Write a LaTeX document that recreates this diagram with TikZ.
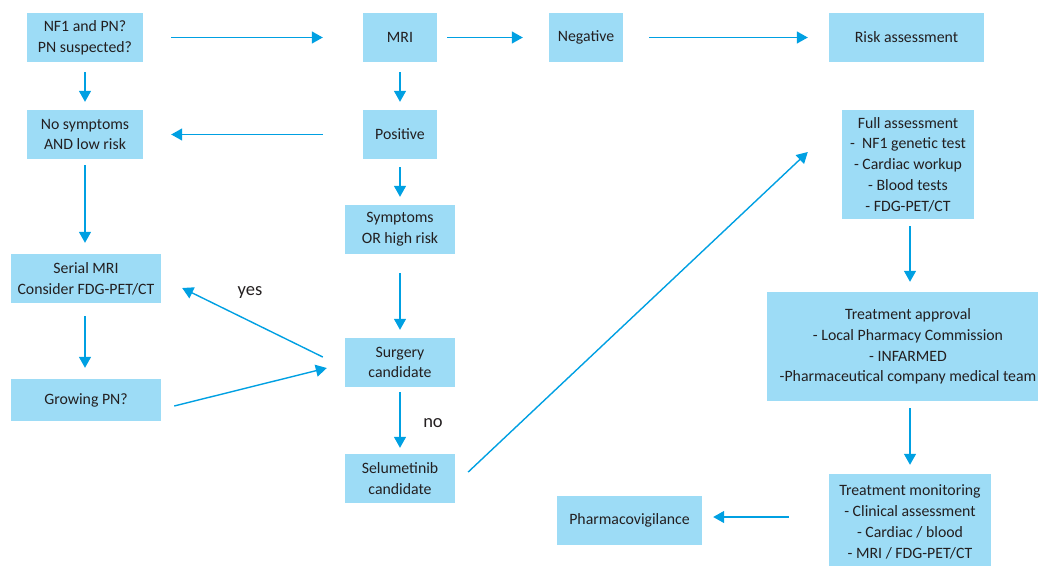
\documentclass[tikz,border=0pt]{standalone}
\usepackage{fontspec}
\setmainfont{Carlito}
\usetikzlibrary{arrows.meta,calc}
\definecolor{boxfill}{RGB}{157,220,246}
\definecolor{arrowblue}{RGB}{0,160,226}
\definecolor{txt}{RGB}{35,31,32}
\begin{document}
\begin{tikzpicture}[x=1pt,y=-1pt,
  box/.style={rectangle,fill=boxfill,draw=none,inner sep=0pt,align=center,text=txt,
    font=\fontsize{15.8}{20.8}\selectfont},
  conn/.style={draw=arrowblue,line width=1.4pt,-{Triangle[length=11pt,width=12pt]}},
  lbl/.style={text=txt,font=\fontsize{18.5}{20}\selectfont,inner sep=0pt}]
\useasboundingbox (0,0) rectangle (1038,565);
\clip (0,0) rectangle (1038,565);
\node[box,minimum width=116pt,minimum height=49pt] (nf1) at (85,37.5) {NF1 and PN?\\PN suspected?};
\node[box,minimum width=74pt,minimum height=49pt] (mri) at (400,37.5) {MRI};
\node[box,minimum width=74pt,minimum height=49pt] (neg) at (586,37.5) {Negative};
\node[box,minimum width=155pt,minimum height=49pt] (risk) at (906.5,37.5) {Risk assessment};
\node[box,minimum width=116pt,minimum height=49pt] (nosym) at (85,134.5) {No symptoms\\AND low risk};
\node[box,minimum width=74pt,minimum height=49pt] (pos) at (400,134.5) {Positive};
\node[box,minimum width=110pt,minimum height=49pt] (sym) at (400,229.5) {Symptoms\\OR high risk};
\node[box,minimum width=132pt,minimum height=109pt] (full) at (908,164.5) {Full assessment\\-\ \ NF1 genetic test\\- Cardiac workup\\- Blood tests\\- FDG-PET/CT};
\node[box,minimum width=150pt,minimum height=49pt] (serial) at (86,278.5) {Serial MRI\\Consider FDG-PET/CT};
\node[box,minimum width=150pt,minimum height=42pt] (growing) at (86,400) {Growing PN?};
\node[box,minimum width=110pt,minimum height=49pt] (surg) at (400,362.5) {Surgery\\candidate};
\node[box,minimum width=110pt,minimum height=49pt] (sel) at (400,478.5) {Selumetinib\\candidate};
\node[box,minimum width=282pt,minimum height=109pt] (ta) at (908,346.5) {Treatment approval\\- Local Pharmacy Commission\\- INFARMED\\-Pharmaceutical company medical team};
\node[box,minimum width=162pt,minimum height=96pt] (tm) at (910,522) {Treatment monitoring\\- Clinical assessment\\- Cardiac / blood\\- MRI / FDG-PET/CT};
\node[box,minimum width=145pt,minimum height=49pt] (pharma) at (629.5,520.5) {Pharmacovigilance};
\node[lbl] (yes) at (250,293) {yes};
\node[lbl] (no) at (433,423) {no};
% connectors
\draw[conn,shorten <=28pt,shorten >=40pt] (nf1.east) -- (mri.west);
\draw[conn,shorten <=10pt,shorten >=26pt] (mri.east) -- (neg.west);
\draw[conn,shorten <=26pt,shorten >=21pt] (neg.east) -- (risk.west);
\draw[conn,shorten <=10pt,shorten >=8pt] (nf1.south) -- (nosym.north);
\draw[conn,shorten <=10pt,shorten >=8pt] (mri.south) -- (pos.north);
\draw[conn,shorten <=40pt,shorten >=28pt] (pos.west) -- (nosym.east);
\draw[conn,shorten <=8pt,shorten >=8pt] (pos.south) -- (sym.north);
\draw[conn,shorten <=6pt,shorten >=11pt] (nosym.south) -- (nosym.south |- serial.north);
\draw[conn,shorten <=13pt,shorten >=11pt] (nosym.south |- serial.south) -- (nosym.south |- growing.north);
\draw[conn,shorten <=19pt,shorten >=8pt] (sym.south) -- (surg.north);
\draw[conn,shorten <=5pt,shorten >=6pt] (surg.south) -- (sel.north);
\draw[conn] ($(surg.west)+(-22,-5.5)$) -- ($(serial.east)+(21,9.5)$);
\draw[conn] ($(growing.east)+(13,6)$) -- ($(surg.west)+(-18,5.5)$);
\draw[conn] ($(sel.east)+(13,-6.5)$) -- ($(full.west)+(-34,-12.5)$);
\draw[conn,shorten <=7pt,shorten >=10pt] ($(full.south)+(2,0)$) -- ($(ta.north)+(2,0)$);
\draw[conn,shorten <=7pt,shorten >=9pt] ($(ta.south)+(2,0)$) -- ($(tm.north)$);
\draw[conn] ($(tm.west)+(-40,-5)$) -- ($(pharma.east)+(11,-3.5)$);
\end{tikzpicture}
\end{document}
